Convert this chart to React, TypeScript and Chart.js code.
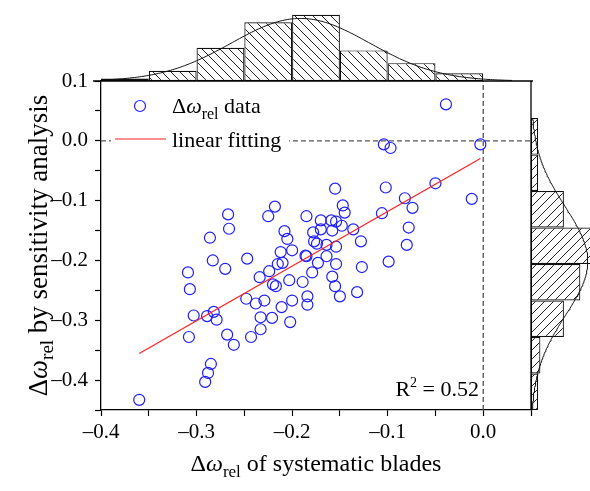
import React, { useEffect, useRef } from 'react';
import { Chart, registerables } from 'chart.js';

Chart.register(...registerables);

const FONT = "'Liberation Serif', 'Times New Roman', Times, serif";

// Scatter data: Δω_rel of systematic blades (x) vs by sensitivity analysis (y)
const xData = [
  -0.360, -0.291, -0.288, -0.285, -0.308, -0.268, -0.261, -0.303, -0.289, -0.282,
  -0.279, -0.309, -0.307, -0.283, -0.270, -0.286, -0.267, -0.266, -0.243, -0.233,
  -0.233, -0.221, -0.202, -0.211, -0.200, -0.184, -0.184, -0.248, -0.238, -0.229,
  -0.234, -0.224, -0.220, -0.217, -0.203, -0.189, -0.179, -0.173, -0.247, -0.215,
  -0.210, -0.212, -0.200, -0.185, -0.177, -0.205, -0.208, -0.178, -0.225, -0.218,
  -0.155, -0.147, -0.145, -0.185, -0.170, -0.159, -0.154, -0.148, -0.158, -0.170,
  -0.136, -0.128, -0.174, -0.164, -0.154, -0.186, -0.164, -0.154, -0.127, -0.158,
  -0.155, -0.150, -0.132, -0.102, -0.106, -0.099, -0.039, -0.104, -0.097, -0.003,
  -0.050, -0.082, -0.074, -0.012, -0.078, -0.080,
];
const yData = [
  -0.433, -0.403, -0.388, -0.373, -0.328, -0.324, -0.341, -0.292, -0.293, -0.286,
  -0.299, -0.220, -0.248, -0.200, -0.214, -0.162, -0.123, -0.147, -0.328, -0.315,
  -0.295, -0.296, -0.303, -0.278, -0.267, -0.260, -0.274, -0.264, -0.272, -0.267,
  -0.228, -0.218, -0.240, -0.243, -0.233, -0.236, -0.220, -0.204, -0.197, -0.206,
  -0.204, -0.186, -0.183, -0.193, -0.168, -0.164, -0.151, -0.153, -0.126, -0.110,
  -0.080, -0.108, -0.120, -0.126, -0.133, -0.133, -0.135, -0.142, -0.150, -0.148,
  -0.148, -0.168, -0.172, -0.174, -0.177, -0.192, -0.193, -0.206, -0.211, -0.227,
  -0.243, -0.260, -0.253, -0.078, -0.121, -0.202, 0.061, -0.006, -0.012, -0.006,
  -0.071, -0.096, -0.112, -0.097, -0.145, -0.174,
];

// Marginal histogram of x (top)
const xBinEdges = [-0.4, -0.35, -0.3, -0.25, -0.2, -0.15, -0.1, -0.05, 0.0];
const xBinCounts = [1, 4, 13, 23, 26, 12, 7, 3];
// Marginal histogram of y (right)
const yBinEdges = [0.038, -0.023, -0.084, -0.145, -0.206, -0.267, -0.328, -0.389, -0.45];
const yBinCounts = [3, 3, 14, 28, 21, 14, 4, 3];

const xRange = [-0.4, 0.05];
const yRange = [-0.45, 0.1];
const tickStep = 0.05;
const r2Text = '0.52';

type Part = { t: string; size: number; italic?: boolean; dy?: number };

function setFont(ctx: CanvasRenderingContext2D, p: Part) {
  ctx.font = `${p.italic ? 'italic ' : ''}${p.size}px ${FONT}`;
}
function measureParts(ctx: CanvasRenderingContext2D, parts: Part[]) {
  let w = 0;
  for (const p of parts) {
    setFont(ctx, p);
    w += ctx.measureText(p.t).width;
  }
  return w;
}
function drawParts(ctx: CanvasRenderingContext2D, parts: Part[], x: number, y: number, align: 'left' | 'center' | 'right') {
  const w = measureParts(ctx, parts);
  let cx = align === 'center' ? x - w / 2 : align === 'right' ? x - w : x;
  ctx.textAlign = 'left';
  ctx.textBaseline = 'alphabetic';
  ctx.fillStyle = '#000';
  for (const p of parts) {
    setFont(ctx, p);
    ctx.fillText(p.t, cx, y + (p.dy || 0));
    cx += ctx.measureText(p.t).width;
  }
}

function hatch(dir: 'back' | 'fwd'): CanvasPattern | string {
  const s = 9;
  const c = document.createElement('canvas');
  c.width = s;
  c.height = s;
  const g = c.getContext('2d');
  if (!g) return '#fff';
  g.fillStyle = '#fff';
  g.fillRect(0, 0, s, s);
  g.strokeStyle = '#222';
  g.lineWidth = 1;
  g.beginPath();
  for (let k = -1; k <= 1; k++) {
    if (dir === 'back') {
      g.moveTo(-1, -1 + k * s);
      g.lineTo(s + 1, s + 1 + k * s);
    } else {
      g.moveTo(-1, s + 1 + k * s);
      g.lineTo(s + 1, -1 + k * s);
    }
  }
  g.stroke();
  const pat = g.createPattern(c, 'repeat');
  return pat || '#fff';
}

const fmtTick = (v: number | string) => {
  const r = Math.round(Number(v) * 100);
  if (r % 10 !== 0) return '';
  const t = (Math.abs(r) / 100).toFixed(1);
  return r < 0 ? '\u2013' + t : t;
};

export default function App() {
  const ref = useRef<HTMLCanvasElement>(null);

  useEffect(() => {
    const canvas = ref.current;
    if (!canvas) return;

    Chart.defaults.font.family = FONT;
    Chart.defaults.font.size = 21;
    Chart.defaults.color = '#000';

    const mean = (a: number[]) => a.reduce((s, v) => s + v, 0) / a.length;
    const sdev = (a: number[]) => {
      const m = mean(a);
      return Math.sqrt(a.reduce((s, v) => s + (v - m) * (v - m), 0) / (a.length - 1));
    };
    const sum = (a: number[]) => a.reduce((s, v) => s + v, 0);

    // least-squares linear fit
    const mx = mean(xData);
    const my = mean(yData);
    let sxy = 0;
    let sxx = 0;
    for (let i = 0; i < xData.length; i++) {
      sxy += (xData[i] - mx) * (yData[i] - my);
      sxx += (xData[i] - mx) * (xData[i] - mx);
    }
    const slope = sxy / sxx;
    const intercept = my - slope * mx;
    const xmin = Math.min(...xData);
    const xmax = Math.max(...xData);
    const fitLine = [
      { x: xmin, y: intercept + slope * xmin },
      { x: xmax, y: intercept + slope * xmax },
    ];

    // normal distribution fits of the marginals
    const normal = (m: number, s: number, total: number, bw: number, v: number) =>
      (total * bw) / (s * Math.sqrt(2 * Math.PI)) * Math.exp(-((v - m) * (v - m)) / (2 * s * s));
    const sx = sdev(xData);
    const sy = sdev(yData);
    const xbw = Math.abs(xBinEdges[1] - xBinEdges[0]);
    const ybw = Math.abs(yBinEdges[1] - yBinEdges[0]);
    const topCurve: { x: number; y: number }[] = [];
    for (let v = xBinEdges[0]; v <= 0.0301; v += 0.0025) {
      topCurve.push({ x: v, y: normal(mx, sx, sum(xBinCounts), xbw, v) });
    }
    const rightCurve: { x: number; y: number }[] = [];
    const yLo = yBinEdges[yBinEdges.length - 1];
    const yHi = yBinEdges[0];
    for (let v = yLo; v <= yHi + 1e-9; v += 0.0025) {
      rightCurve.push({ x: normal(my, sy, sum(yBinCounts), ybw, v), y: v });
    }

    const topBars = xBinCounts.map((c, i) => ({ x: (xBinEdges[i] + xBinEdges[i + 1]) / 2, y: c }));
    const rightBars = yBinCounts.map((c, i) => ({ x: c, y: (yBinEdges[i] + yBinEdges[i + 1]) / 2 }));

    const plotW = 430;
    const plotH = 329;
    const topPxPerCount = 2.55;
    const rightPxPerCount = 2.35;
    const topBarPx = (xbw * plotW) / (xRange[1] - xRange[0]);
    const rightBarPx = (ybw * plotH) / (yRange[1] - yRange[0]);

    const overlay = {
      id: 'overlay',
      afterDatasetsDraw(chart: any) {
        const ctx: CanvasRenderingContext2D = chart.ctx;
        const a = chart.chartArea;
        ctx.save();
        // frame (top / right)
        ctx.strokeStyle = '#000';
        ctx.lineWidth = 1.3;
        ctx.beginPath();
        ctx.moveTo(a.left - 8, a.top);
        ctx.lineTo(a.right + 2, a.top);
        ctx.moveTo(a.right, a.top);
        ctx.lineTo(a.right, a.bottom);
        ctx.stroke();

        // legend
        ctx.fillStyle = '#fff';
        ctx.fillRect(111, 89, 178, 66);
        ctx.strokeStyle = '#1e1eff';
        ctx.lineWidth = 1.2;
        ctx.beginPath();
        ctx.arc(140, 106, 5.5, 0, Math.PI * 2);
        ctx.stroke();
        ctx.strokeStyle = '#ff2020';
        ctx.lineWidth = 1.2;
        ctx.beginPath();
        ctx.moveTo(115, 139);
        ctx.lineTo(166, 139);
        ctx.stroke();
        drawParts(ctx, [
          { t: '\u0394', size: 22 },
          { t: '\u03c9', size: 22, italic: true },
          { t: 'rel', size: 16, dy: 6 },
          { t: ' data', size: 22 },
        ], 172, 113, 'left');
        drawParts(ctx, [{ t: 'linear fitting', size: 22 }], 172, 147, 'left');

        // R^2
        drawParts(ctx, [
          { t: 'R', size: 22 },
          { t: '2', size: 14, dy: -9 },
          { t: ' = ' + r2Text, size: 22 },
        ], 479, 396, 'right');

        // axis titles
        drawParts(ctx, [
          { t: '\u0394', size: 24 },
          { t: '\u03c9', size: 24, italic: true },
          { t: 'rel', size: 17, dy: 6 },
          { t: ' of systematic blades', size: 24 },
        ], (a.left + a.right) / 2, 471, 'center');

        ctx.translate(47, (a.top + a.bottom) / 2);
        ctx.rotate(-Math.PI / 2);
        drawParts(ctx, [
          { t: '\u0394', size: 27 },
          { t: '\u03c9', size: 27, italic: true },
          { t: 'rel', size: 19, dy: 6 },
          { t: ' by sensitivity analysis', size: 27 },
        ], 0, 0, 'center');
        ctx.restore();
      },
    };

    const tickFont = { family: FONT, size: 21, style: 'normal' as const, weight: 'normal' as const, lineHeight: 1.2 };

    const axisCommon = {
      type: 'linear' as const,
      offset: false,
      ticks: {
        stepSize: tickStep,
        autoSkip: false,
        maxRotation: 0,
        minRotation: 0,
        maxTicksLimit: 40,
        color: '#000',
        font: tickFont,
        callback: fmtTick,
      },
      grid: {
        offset: false,
        drawOnChartArea: false,
        drawTicks: true,
        tickLength: 6,
        tickColor: '#000',
        tickWidth: 1.2,
      },
      border: { display: true, color: '#000', width: 1.3 },
    };

    const chart = new Chart(canvas, {
      type: 'scatter',
      data: {
        datasets: [
          {
            type: 'line',
            label: 'linear fitting',
            data: fitLine,
            borderColor: '#ff2020',
            borderWidth: 1.2,
            pointRadius: 0,
            fill: false,
            xAxisID: 'x',
            yAxisID: 'y',
          } as any,
          {
            type: 'scatter',
            label: 'data',
            data: xData.map((x, i) => ({ x, y: yData[i] })),
            pointStyle: 'circle',
            pointRadius: 5.5,
            borderColor: '#1e1eff',
            backgroundColor: 'rgba(0,0,0,0)',
            borderWidth: 1.2,
            xAxisID: 'x',
            yAxisID: 'y',
          },
          {
            type: 'line',
            label: 'top fit',
            data: topCurve,
            borderColor: '#111',
            borderWidth: 1,
            pointRadius: 0,
            fill: false,
            clip: false,
            xAxisID: 'x',
            yAxisID: 'yTop',
          } as any,
          {
            type: 'line',
            label: 'right fit',
            indexAxis: 'y',
            data: rightCurve,
            borderColor: '#111',
            borderWidth: 1,
            pointRadius: 0,
            fill: false,
            clip: false,
            xAxisID: 'xRight',
            yAxisID: 'y',
          } as any,
          {
            type: 'bar',
            label: 'top hist',
            data: topBars,
            backgroundColor: hatch('back'),
            borderColor: '#111',
            borderWidth: 1.2,
            borderSkipped: false,
            grouped: false,
            barPercentage: 3,
            categoryPercentage: 1,
            maxBarThickness: topBarPx,
            clip: false,
            xAxisID: 'x',
            yAxisID: 'yTop',
          } as any,
          {
            type: 'bar',
            label: 'right hist',
            indexAxis: 'y',
            data: rightBars,
            backgroundColor: hatch('fwd'),
            borderColor: '#111',
            borderWidth: 1.2,
            borderSkipped: false,
            grouped: false,
            barPercentage: 3,
            categoryPercentage: 1,
            maxBarThickness: rightBarPx,
            clip: false,
            xAxisID: 'xRight',
            yAxisID: 'y',
          } as any,
          {
            type: 'line',
            label: 'zero h',
            data: [{ x: xRange[0], y: 0 }, { x: xRange[1], y: 0 }],
            borderColor: '#555',
            borderWidth: 1.3,
            borderDash: [5, 3],
            pointRadius: 0,
            fill: false,
            xAxisID: 'x',
            yAxisID: 'y',
          } as any,
          {
            type: 'line',
            label: 'zero v',
            data: [{ x: 0, y: yRange[0] }, { x: 0, y: yRange[1] }],
            borderColor: '#555',
            borderWidth: 1.3,
            borderDash: [5, 3],
            pointRadius: 0,
            fill: false,
            xAxisID: 'x',
            yAxisID: 'y',
          } as any,
        ],
      },
      options: {
        responsive: false,
        animation: false,
        events: [],
        layout: { padding: { top: 81, right: 59, left: 0, bottom: 0 } },
        plugins: {
          legend: { display: false },
          tooltip: { enabled: false },
        },
        scales: {
          x: {
            ...axisCommon,
            position: 'bottom',
            min: xRange[0],
            max: xRange[1],
            ticks: { ...axisCommon.ticks, padding: 4 },
            afterFit: (s: any) => { s.height = 81; },
          },
          y: {
            ...axisCommon,
            position: 'left',
            min: yRange[0],
            max: yRange[1],
            ticks: { ...axisCommon.ticks, padding: 7 },
            afterFit: (s: any) => { s.width = 101; },
          },
          yTop: {
            type: 'linear',
            display: false,
            offset: false,
            position: 'left',
            min: -plotH / topPxPerCount,
            max: 0,
          },
          xRight: {
            type: 'linear',
            display: false,
            offset: false,
            position: 'top',
            min: -plotW / rightPxPerCount,
            max: 0,
          },
        } as any,
      },
      plugins: [overlay],
    });

    return () => chart.destroy();
  }, []);

  return (
    <div style={{ position: 'absolute', left: 0, top: 0, width: 590, height: 491, background: '#fff' }}>
      <canvas ref={ref} width={590} height={491} style={{ display: 'block' }} />
    </div>
  );
}
